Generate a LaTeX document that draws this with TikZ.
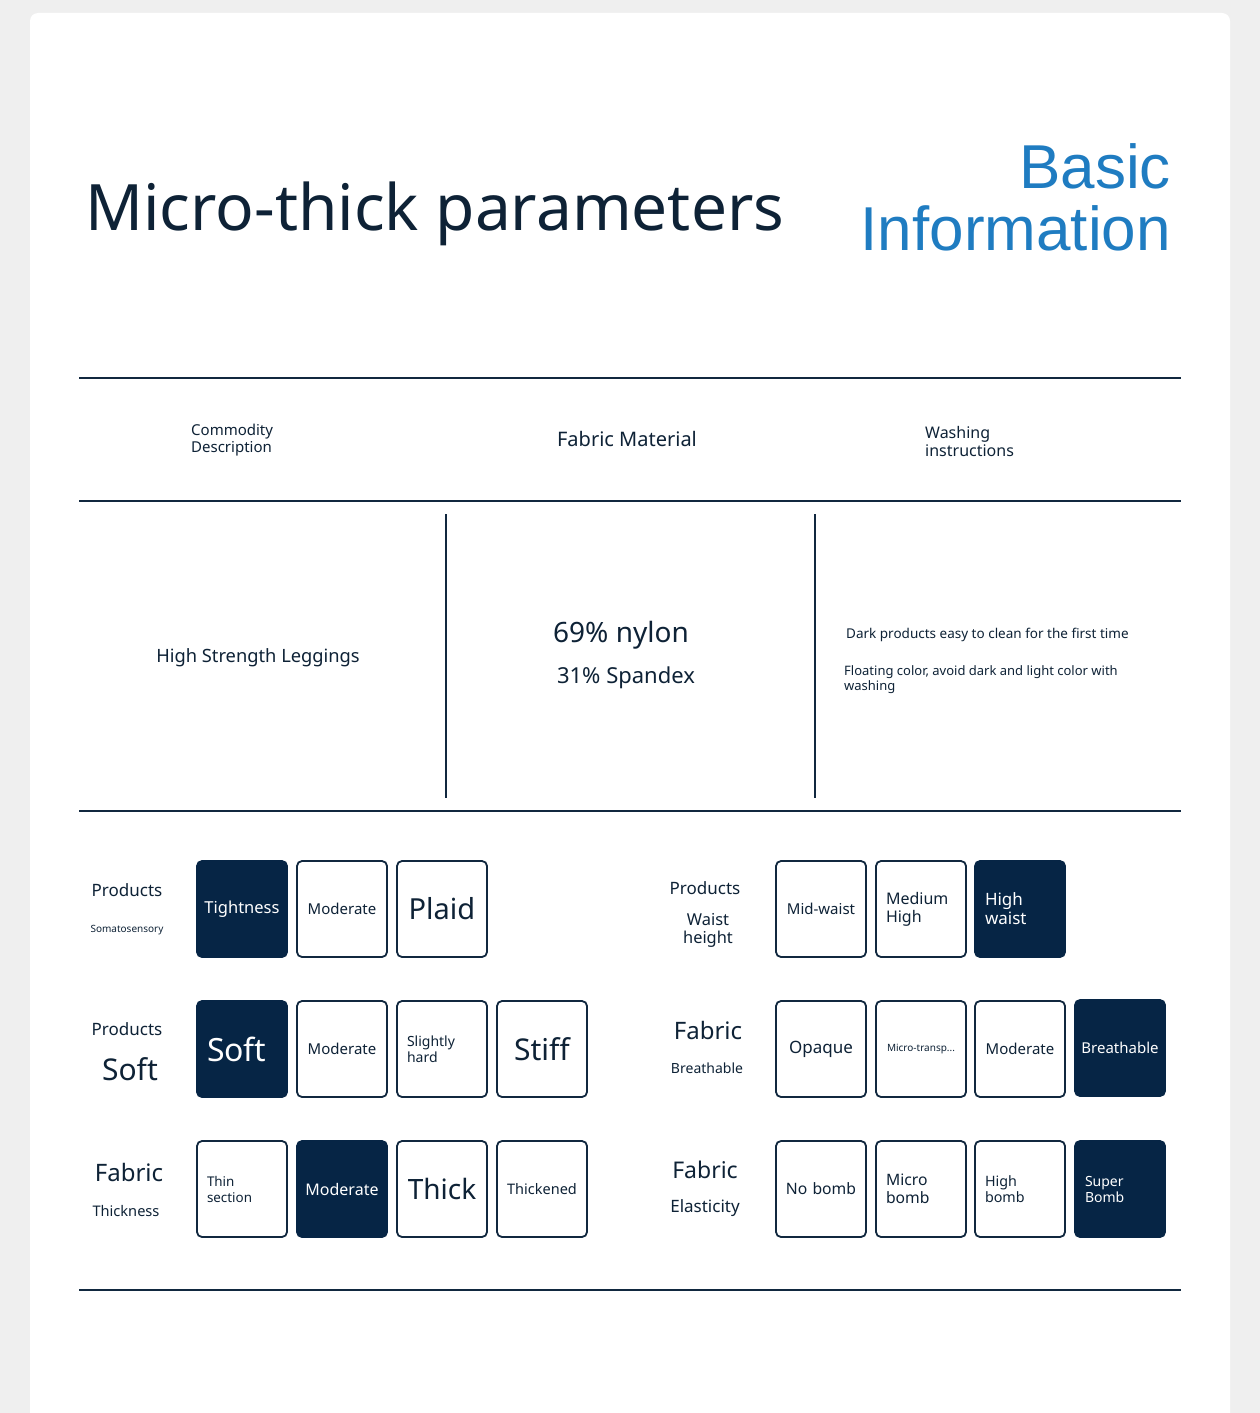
\documentclass[tikz,border=0pt]{standalone}
\usepackage{fontspec}
\setmainfont{Noto Sans}
\newfontfamily\headfont{Liberation Sans}
\definecolor{ink}{HTML}{0E2236}
\definecolor{navy}{HTML}{062545}
\definecolor{rule}{HTML}{11283F}
\definecolor{titleblue}{HTML}{1F7CC1}
\definecolor{pagegray}{HTML}{EFEFEF}
\newcommand{\fsz}[2]{\fontsize{#1}{#2}\selectfont}

\begin{document}
\begin{tikzpicture}[x=1pt,y=-1pt,
    every node/.style={text=ink, inner sep=0pt},
    hrule/.style={draw=rule, line width=2pt},
    opt/.style={draw=rule, line width=1.8pt, fill=white, rounded corners=5pt,
        minimum width=90pt, minimum height=96pt, text width=70pt,
        inner xsep=10pt, align=center},
    sel/.style={opt, fill=navy, draw=navy, text=white},
    wide/.style={text width=82pt, inner xsep=4pt},
    lft/.style={align=left}]
    \useasboundingbox (0,0) rectangle (1260,1413);
    \fill[pagegray] (0,0) rectangle (1260,1413);
    \fill[white, rounded corners=8pt] (30,13) rectangle (1230,1430);

    \node[anchor=base west, font=\fsz{64}{70}] (title) at (85,230) {Micro-thick parameters};
    \node[anchor=base east, font=\headfont\fsz{62}{64}, text=titleblue] (basic) at (1171,188) {Basic};
    \node[anchor=base east, font=\headfont\fsz{62}{64}, text=titleblue] (info) at (1171,250) {Information};

    \draw[hrule] (79,378) -- (1181,378);
    \draw[hrule] (79,501) -- (1181,501);
    \draw[hrule] (79,811) -- (1181,811);
    \draw[hrule] (79,1290) -- (1181,1290);
    \draw[hrule] (446,514) -- (446,798);
    \draw[hrule] (815,514) -- (815,798);

    \node[anchor=west, lft, font=\fsz{15}{17}] (hdDesc) at (191,440) {Commodity\\Description};
    \node[font=\fsz{20}{22}] (hdFabric) at (627,439) {Fabric Material};
    \node[anchor=west, lft, font=\fsz{16}{18}] (hdWash) at (925,441) {Washing\\instructions};

    \node[font=\fsz{18.3}{20}] (bdName) at (258,658) {High Strength Leggings};
    \node[font=\fsz{28}{30}] (bdNylon) at (621,635) {69\% nylon};
    \node[font=\fsz{22}{24}] (bdSpandex) at (626,678) {31\% Spandex};
    \node[anchor=west, font=\fsz{13.5}{15}] (bdDark) at (846,635) {Dark products easy to clean for the first time};
    \node[anchor=west, lft, font=\fsz{13}{15}] (bdFloat) at (844,680) {Floating color, avoid dark and light color with\\washing};

    \node[font=\fsz{17}{19}] (lbProdA) at (127,890) {Products};
    \node[font=\fsz{10}{12}] (lbSoma) at (127,930) {Somatosensory};
    \node[font=\fsz{17}{19}] (lbProdB) at (127,1029) {Products};
    \node[font=\fsz{30}{32}] (lbSoft) at (130,1069) {Soft};
    \node[font=\fsz{24}{26}] (lbFabC) at (129,1172) {Fabric};
    \node[font=\fsz{14.6}{16}] (lbThick) at (126,1211) {Thickness};

    \node[font=\fsz{17}{19}] (lbProdD) at (705,888) {Products};
    \node[align=center, font=\fsz{16.4}{18}] (lbWaist) at (708,930) {Waist\\height};
    \node[font=\fsz{24}{26}] (lbFabE) at (708,1030) {Fabric};
    \node[font=\fsz{14}{16}] (lbBreath) at (707,1068) {Breathable};
    \node[font=\fsz{23}{25}] (lbFabF) at (705,1170) {Fabric};
    \node[font=\fsz{17}{19}] (lbElast) at (705,1208) {Elasticity};

    \node[sel, wide, font=\fsz{16.5}{18}] (tightA) at (242,909) {Tightness};
    \node[opt, font=\fsz{15}{17}] (tightB) at (342,909) {Moderate};
    \node[opt, font=\fsz{29}{31}] (tightC) at (442,909) {Plaid};

    \node[sel, lft, font=\fsz{32}{34}] (softA) at (242,1049) {Soft};
    \node[opt, font=\fsz{15}{17}] (softB) at (342,1049) {Moderate};
    \node[opt, lft, font=\fsz{14}{16}] (softC) at (442,1049) {Slightly\\hard};
    \node[opt, font=\fsz{30}{32}] (softD) at (542,1049) {Stiff};

    \node[opt, lft, font=\fsz{13.4}{16}] (thickA) at (242,1189) {Thin\\section};
    \node[sel, wide, font=\fsz{16}{18}] (thickB) at (342,1189) {Moderate};
    \node[opt, font=\fsz{28}{30}] (thickC) at (442,1189) {Thick};
    \node[opt, wide, font=\fsz{14.5}{16}] (thickD) at (542,1189) {Thickened};

    \node[opt, wide, font=\fsz{15}{17}] (waistA) at (821,909) {Mid-waist};
    \node[opt, lft, font=\fsz{16}{18}] (waistB) at (921,909) {Medium\\High};
    \node[sel, lft, font=\fsz{17}{19}] (waistC) at (1020,909) {High\\waist};

    \node[opt, font=\fsz{17}{19}] (airA) at (821,1049) {Opaque};
    \node[opt, wide, font=\fsz{10}{12}] (airB) at (921,1049) {Micro-transp...};
    \node[opt, font=\fsz{15}{17}] (airC) at (1020,1049) {Moderate};
    \node[sel, wide, font=\fsz{15}{17}] (airD) at (1120,1048) {Breathable};

    \node[opt, wide, font=\fsz{15.7}{18}] (elastA) at (821,1189) {No bomb};
    \node[opt, lft, font=\fsz{15.7}{18}] (elastB) at (921,1189) {Micro\\bomb};
    \node[opt, lft, font=\fsz{14.3}{16}] (elastC) at (1020,1189) {High\\bomb};
    \node[sel, lft, font=\fsz{14}{16}] (elastD) at (1120,1189) {Super\\Bomb};
\end{tikzpicture}
\end{document}
